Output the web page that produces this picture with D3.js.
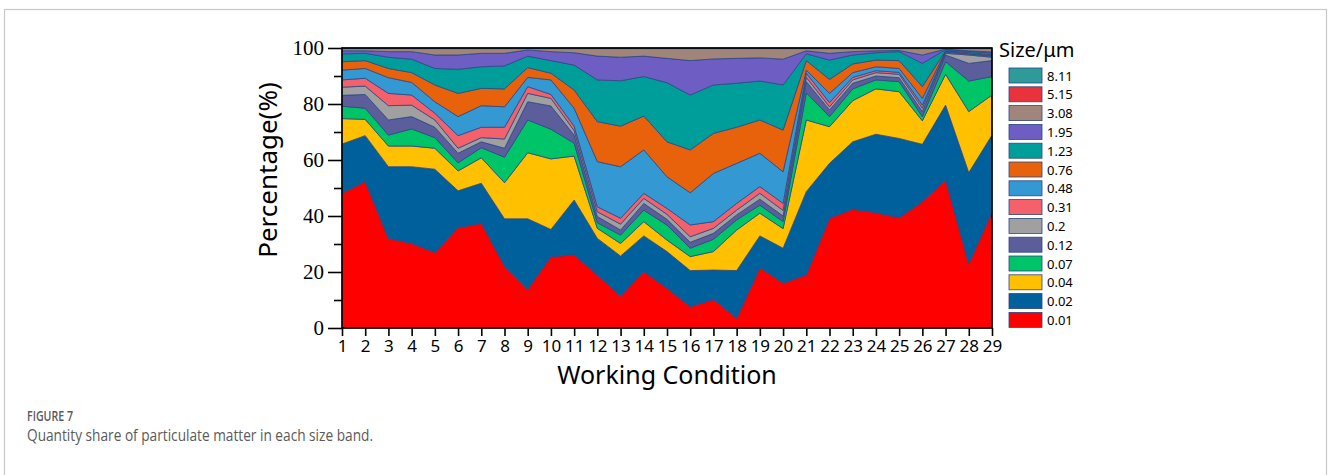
<!DOCTYPE html>
<html>
<head>
<meta charset="utf-8">
<script src="https://cdn.jsdelivr.net/npm/d3@7"></script>
<style>
  html, body { margin: 0; padding: 0; background: #fff; }
  svg { display: block; }
</style>
</head>
<body>
<svg id="chart" width="1328" height="475"></svg>
<script>
// Working conditions 1..29
const conditions = d3.range(1, 30);

// Size bands (µm), bottom of the stack first
const sizeBands = ["0.01", "0.02", "0.04", "0.07", "0.12", "0.2", "0.31", "0.48", "0.76", "1.23", "1.95", "3.08", "5.15", "8.11"];
const bandColors = ["#ff0000", "#00609c", "#ffc000", "#00c468", "#5c5e9c", "#a0a0a0", "#f5616b", "#3499d3", "#e8610b", "#009e9b", "#6e5ec4", "#a2857a", "#e8323c", "#2f9a9a"];

// Quantity share (%) of each size band per working condition
const share001 = [48.1, 52.3, 32.0, 30.2, 27.0, 35.8, 37.4, 22.1, 13.8, 25.5, 26.1, 18.9, 11.4, 20.1, 14.2, 7.6, 10.2, 3.5, 21.5, 16.0, 19.0, 39.2, 42.4, 41.2, 39.4, 45.1, 52.9, 22.9, 41.5];
const share002 = [17.6, 16.4, 25.6, 27.4, 29.7, 13.2, 14.3, 16.9, 25.2, 9.7, 19.6, 13.1, 14.3, 12.8, 13.1, 12.9, 10.5, 17.0, 11.4, 12.5, 29.7, 19.6, 24.1, 28.0, 28.3, 20.5, 26.7, 32.6, 27.4];
const share004 = [9.1, 5.8, 7.4, 7.4, 7.5, 7.1, 9.1, 12.9, 23.6, 25.2, 15.7, 3.6, 4.5, 5.1, 4.1, 5.0, 6.6, 14.5, 8.1, 7.0, 25.6, 13.1, 14.7, 16.2, 16.7, 8.4, 11.0, 21.8, 14.3];
const share007 = [4.4, 4.0, 3.9, 6.1, 3.8, 2.9, 3.6, 9.1, 11.7, 10.6, 4.6, 2.0, 3.0, 4.1, 5.4, 3.0, 4.4, 3.6, 2.9, 2.5, 9.7, 3.6, 4.2, 3.2, 3.6, 1.5, 4.5, 10.9, 6.6];
const share012 = [3.9, 4.9, 5.4, 4.4, 3.7, 3.4, 2.1, 3.2, 6.5, 8.3, 2.9, 2.2, 1.8, 2.4, 2.0, 2.1, 2.1, 1.8, 2.1, 2.0, 4.0, 2.4, 2.0, 1.4, 1.4, 1.8, 2.4, 6.3, 5.7];
const share020 = [2.9, 3.0, 5.1, 4.1, 2.6, 1.8, 1.5, 3.3, 3.0, 2.7, 1.6, 1.7, 2.1, 1.8, 1.8, 2.0, 1.8, 1.7, 2.1, 2.0, 1.5, 1.1, 1.2, 1.2, 1.2, 1.2, 0.6, 3.0, 1.2];
const share031 = [2.6, 2.8, 4.4, 3.6, 2.4, 4.5, 3.7, 4.2, 2.4, 1.4, 1.6, 1.8, 2.1, 1.8, 2.1, 4.2, 2.4, 2.4, 2.4, 2.5, 1.5, 1.5, 0.9, 0.7, 0.7, 1.1, 0.4, 0.3, 0.3];
const share048 = [3.5, 3.5, 5.6, 4.5, 4.1, 6.8, 7.7, 7.3, 3.3, 5.2, 6.4, 16.1, 18.4, 15.5, 11.3, 11.5, 17.2, 14.3, 11.9, 11.3, 1.1, 3.3, 1.7, 1.4, 1.4, 2.4, 0.3, 0.2, 0.3];
const share076 = [3.0, 2.8, 3.3, 3.5, 6.0, 8.3, 6.2, 6.4, 3.5, 2.4, 6.5, 14.3, 14.5, 12.1, 12.5, 15.3, 14.3, 12.9, 11.9, 14.9, 3.4, 5.0, 3.1, 2.4, 2.8, 4.2, 0.2, 0.4, 0.3];
const share123 = [2.8, 2.6, 4.0, 4.8, 5.9, 8.6, 7.7, 8.2, 4.1, 4.5, 8.9, 14.9, 16.2, 14.1, 21.1, 19.6, 17.3, 15.7, 13.9, 16.1, 2.4, 6.9, 3.2, 2.6, 3.2, 8.3, 0.4, 0.4, 0.6];
const share195 = [1.1, 0.9, 2.0, 2.7, 4.8, 5.1, 4.8, 4.5, 2.2, 3.2, 4.4, 8.5, 8.4, 7.3, 8.7, 12.3, 9.3, 8.9, 8.3, 9.2, 1.1, 2.4, 1.2, 0.7, 0.4, 3.0, 0.2, 0.2, 0.4];
const share308 = [0.8, 0.8, 1.1, 1.1, 2.3, 2.3, 1.7, 1.7, 0.5, 1.1, 1.5, 2.7, 3.1, 2.7, 3.5, 4.3, 3.7, 3.5, 3.3, 3.8, 0.8, 1.7, 1.1, 0.8, 0.7, 2.3, 0.2, 0.8, 1.2];
const share515 = [0.1, 0.1, 0.1, 0.1, 0.1, 0.1, 0.1, 0.1, 0.1, 0.1, 0.1, 0.1, 0.1, 0.1, 0.1, 0.1, 0.1, 0.1, 0.1, 0.1, 0.1, 0.1, 0.1, 0.1, 0.1, 0.1, 0.1, 0.1, 0.1];
const share811 = [0.1, 0.1, 0.1, 0.1, 0.1, 0.1, 0.1, 0.1, 0.1, 0.1, 0.1, 0.1, 0.1, 0.1, 0.1, 0.1, 0.1, 0.1, 0.1, 0.1, 0.1, 0.1, 0.1, 0.1, 0.1, 0.1, 0.1, 0.1, 0.1];

const yTicks = [0, 20, 40, 60, 80, 100];
const yMinorTicks = [10, 30, 50, 70, 90];

const shares = [share001, share002, share004, share007, share012, share020, share031, share048, share076, share123, share195, share308, share515, share811];

// One row per working condition, one column per size band
const rows = conditions.map((c, i) => {
  const r = { condition: c };
  sizeBands.forEach((b, k) => { r[b] = shares[k][i]; });
  return r;
});

const svg = d3.select("#chart");
const sans = "'Noto Sans', 'Open Sans', sans-serif";

// Outer figure frame
svg.append("rect")
  .attr("x", 4.5).attr("y", 9.5).attr("width", 1322).attr("height", 500)
  .attr("fill", "none").attr("stroke", "#c9c9c9").attr("stroke-width", 1.2);

const plotLeft = 342, plotRight = 992, plotTop = 48, plotBottom = 328;
const x = d3.scaleLinear().domain([1, 29]).range([plotLeft, plotRight]);
const y = d3.scaleLinear().domain([0, 100]).range([plotBottom, plotTop]);

const stack = d3.stack().keys(sizeBands);
const layers = stack(rows);

const area = d3.area()
  .x(d => x(d.data.condition))
  .y0(d => y(d[0]))
  .y1(d => y(Math.min(100, d[1])));

svg.append("g").selectAll("path")
  .data(layers)
  .join("path")
  .attr("d", area)
  .attr("fill", (d, i) => bandColors[i])
  .attr("stroke", "#2a4784")
  .attr("stroke-width", 0.8)
  .attr("stroke-linejoin", "round");

// Plot box
svg.append("rect")
  .attr("x", plotLeft).attr("y", plotTop).attr("width", plotRight - plotLeft).attr("height", plotBottom - plotTop)
  .attr("fill", "none").attr("stroke", "#000").attr("stroke-width", 1.6);

// Y axis
const yAxis = svg.append("g").attr("transform", `translate(${plotLeft},0)`)
  .call(d3.axisLeft(y).tickValues(yTicks).tickSize(14).tickPadding(4).tickFormat(d3.format("d")));
yAxis.select(".domain").remove();
yAxis.selectAll("line").attr("stroke", "#000").attr("stroke-width", 1.6);
yAxis.selectAll("text").attr("font-family", "'Liberation Serif', 'Times New Roman', serif").attr("font-size", 21).attr("fill", "#000");

const yMinor = svg.append("g").attr("transform", `translate(${plotLeft},0)`)
  .call(d3.axisLeft(y).tickValues(yMinorTicks).tickSize(8).tickFormat(""));
yMinor.select(".domain").remove();
yMinor.selectAll("line").attr("stroke", "#000").attr("stroke-width", 1.6);

// X axis
const xAxis = svg.append("g").attr("transform", `translate(0,${plotBottom})`)
  .call(d3.axisBottom(x).tickValues(conditions).tickSize(8).tickPadding(4).tickFormat(d3.format("d")));
xAxis.select(".domain").remove();
xAxis.selectAll("line").attr("stroke", "#000").attr("stroke-width", 1.6);
xAxis.selectAll("text").attr("font-family", sans).attr("font-size", 17).attr("fill", "#000");

// Axis titles
svg.append("text")
  .attr("x", (plotLeft + plotRight) / 2).attr("y", 384)
  .attr("text-anchor", "middle")
  .attr("font-family", sans).attr("font-size", 25).attr("fill", "#000")
  .text("Working Condition");

svg.append("text")
  .attr("transform", "translate(277,170) rotate(-90)")
  .attr("text-anchor", "middle")
  .attr("font-family", sans).attr("font-size", 26).attr("fill", "#000")
  .text("Percentage(%)");

// Legend: largest size band on top
const legend = svg.append("g");
legend.append("text")
  .attr("x", 999).attr("y", 57)
  .attr("font-family", sans).attr("font-size", 20).attr("fill", "#000")
  .text("Size/\u03bcm");

const legendItems = sizeBands.map((b, i) => ({ band: b, color: bandColors[i] })).reverse();
const li = legend.selectAll("g.item")
  .data(legendItems)
  .join("g")
  .attr("class", "item")
  .attr("transform", (d, i) => `translate(1009,${68 + i * 18.8})`);
li.append("rect")
  .attr("width", 33).attr("height", 15)
  .attr("fill", d => d.color)
  .attr("stroke", "#2a4784").attr("stroke-width", 0.8);
li.append("text")
  .attr("x", 38).attr("y", 12.5)
  .attr("font-family", sans).attr("font-size", 13).attr("fill", "#000")
  .text(d => d.band);

// Caption
svg.append("text")
  .attr("x", 27).attr("y", 421)
  .attr("font-family", "'Open Sans', sans-serif").attr("font-size", 13.5).attr("font-weight", 600)
  .attr("textLength", 46).attr("lengthAdjust", "spacingAndGlyphs")
  .attr("fill", "#5a5a5a")
  .text("FIGURE 7");
svg.append("text")
  .attr("x", 27).attr("y", 441)
  .attr("font-family", "'Open Sans', sans-serif").attr("font-size", 16)
  .attr("textLength", 346).attr("lengthAdjust", "spacingAndGlyphs")
  .attr("fill", "#5a5a5a")
  .text("Quantity share of particulate matter in each size band.");
</script>
</body>
</html>
